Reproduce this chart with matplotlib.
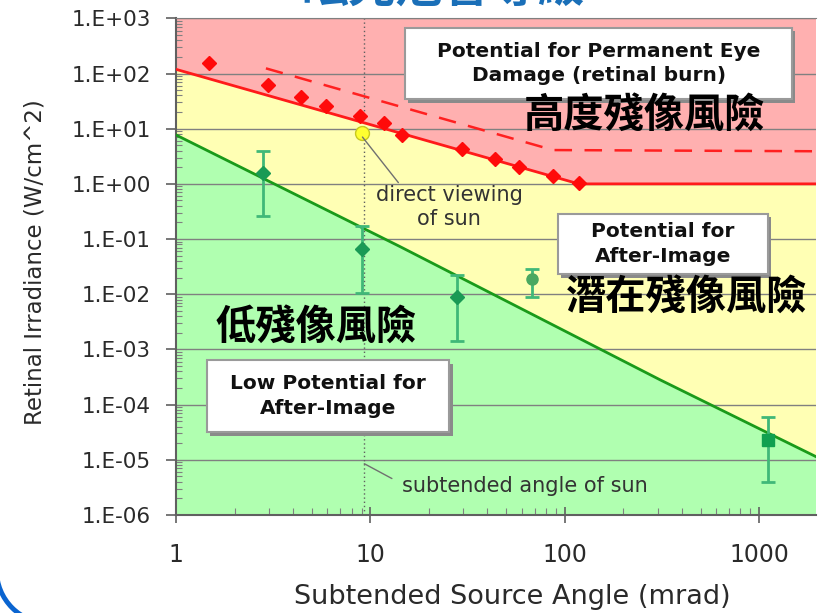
import matplotlib.pyplot as plt
import numpy as np
from matplotlib.patches import Rectangle, Arc
from matplotlib.ticker import FixedLocator, LogLocator, FuncFormatter, NullFormatter

plt.rcParams['font.family'] = ['DejaVu Sans', 'Noto Sans CJK TC']

# --- data ---
X_MAX = 1960
Y_MIN, Y_MAX = 1e-6, 1e3

# boundary: permanent damage (retinal burn)
burn_line_x = [1, 118, 2000]
burn_line_y = [119, 1.0, 1.0]
burn_dash_x = [2.9, 87, 2000]
burn_dash_y = [124, 4.1, 3.9]
burn_pts_x = [1.48, 2.96, 4.4, 5.9, 8.85, 11.8, 14.5, 29.5, 43.8, 58, 87, 118]
burn_pts_y = [153, 62, 38, 25.8, 17, 12.5, 7.7, 4.2, 2.8, 2.05, 1.39, 1.05]

# boundary: after-image
after_line_x = [1, 14.2, 310, 2000]
after_line_y = [7.7, 0.073, 2.8e-4, 1.1e-5]

# sun
sun_x, sun_y = 9.1, 8.3
sun_angle = 9.3

# observations with error bars
obs_x = [2.8, 9.0, 28, 68, 1110]
obs_y = [1.56, 0.065, 0.0088, 0.019, 2.3e-5]
obs_hi = [4.0, 0.17, 0.022, 0.029, 5.9e-5]
obs_lo = [0.26, 0.0107, 0.0014, 0.0089, 3.9e-6]
obs_marker = ['D', 'D', 'D', 'o', 's']
obs_color = ['#1a9a55', '#1a9a55', '#1a9a55', '#4aa860', '#10a050']

y_ticks = [1e-6, 1e-5, 1e-4, 1e-3, 1e-2, 1e-1, 1e0, 1e1, 1e2, 1e3]
x_ticks = [1, 10, 100, 1000]
x_tick_labels = ['1', '10', '100', '1000']

# --- figure ---
fig = plt.figure(figsize=(8.23, 6.13), dpi=100)
ax = fig.add_axes([0.2139, 0.1599, 0.7776, 0.8102])
ax.set_xscale('log')
ax.set_yscale('log')
ax.set_xlim(1, X_MAX)
ax.set_ylim(Y_MIN, Y_MAX)

# zones
ax.fill(burn_line_x + [2000, 1], burn_line_y + [Y_MAX, Y_MAX],
        color='#ffb0b0', lw=0, zorder=0.5)
ax.fill(burn_line_x + after_line_x[::-1], burn_line_y + after_line_y[::-1],
        color='#ffffb4', lw=0, zorder=0.5)
ax.fill(after_line_x + [2000, 1], after_line_y + [Y_MIN, Y_MIN],
        color='#b0ffb0', lw=0, zorder=0.5)

ax.set_axisbelow('line')
ax.yaxis.grid(True, which='major', color='#808080', lw=1)
ax.xaxis.grid(False)

# boundary lines
ax.plot(burn_line_x, burn_line_y, color='#ff1a1a', lw=2, zorder=3)
ax.plot(burn_dash_x, burn_dash_y, color='#ff2020', lw=1.8, ls=(0, (7, 5)), zorder=3)
ax.plot(after_line_x, after_line_y, color='#1a9a1a', lw=2, zorder=3)
ax.plot(burn_pts_x, burn_pts_y, ls='none', marker='D', ms=7, color='#ff0a0a',
        mec='#ff0a0a', zorder=4)

# sun line and point
ax.axvline(sun_angle, color='#606060', lw=1, ls=(0, (1, 2)), zorder=2)
ax.plot([sun_x], [sun_y], marker='o', ms=10, color='#ffff30', mec='#c8c820', zorder=5)

# observations
for x, y, hi, lo, m, c in zip(obs_x, obs_y, obs_hi, obs_lo, obs_marker, obs_color):
    ax.errorbar([x], [y], yerr=[[y - lo], [hi - y]], fmt='none', ecolor='#40b878',
                elinewidth=2, capsize=5, capthick=2, zorder=4)
    ax.plot([x], [y], marker=m, ms=8 if m != 'D' else 7, color=c, mec=c, zorder=5)

# axes styling
for s in ['left', 'bottom']:
    ax.spines[s].set_color('#606060')
    ax.spines[s].set_linewidth(1.5)
ax.spines['top'].set_color('#808080')
ax.spines['right'].set_visible(False)

ax.yaxis.set_major_locator(FixedLocator(y_ticks))
ax.yaxis.set_major_formatter(FuncFormatter(lambda v, p: f"1.E{int(round(np.log10(v))):+03d}"))
ax.yaxis.set_minor_locator(LogLocator(base=10, subs=np.arange(2, 10)))
ax.yaxis.set_minor_formatter(NullFormatter())
ax.xaxis.set_major_locator(FixedLocator(x_ticks))
ax.set_xticklabels(x_tick_labels)
ax.xaxis.set_minor_locator(LogLocator(base=10, subs=np.arange(2, 10)))
ax.xaxis.set_minor_formatter(NullFormatter())

ax.tick_params(axis='y', which='major', direction='out', length=7, width=1.2,
               color='#606060', labelsize=15.5, labelcolor='#2a2a2a', pad=11)
ax.tick_params(axis='y', which='minor', direction='in', length=4, width=0.8, color='#808080')
ax.tick_params(axis='x', which='major', direction='inout', length=12, width=1.2,
               color='#606060', labelsize=17, labelcolor='#2a2a2a', pad=14)
ax.tick_params(axis='x', which='minor', direction='in', length=5, width=0.8, color='#808080')

fig.text(0.6227, 0.026, 'Subtended Source Angle (mrad)', ha='center', va='center',
         fontsize=19.5, color='#2a2a2a')
fig.text(0.0425, 0.573, 'Retinal Irradiance (W/cm^2)', ha='center', va='center',
         rotation=90, fontsize=16.5, color='#2a2a2a')


# text boxes with drop shadow (axes fraction coords)
def shadow_box(x0, y0, x1, y1, text, fs=14.5):
    ax.add_patch(Rectangle((x0 + 0.005, y0 - 0.007), x1 - x0, y1 - y0,
                           transform=ax.transAxes, facecolor='#8a8a8a',
                           edgecolor='none', zorder=6))
    ax.add_patch(Rectangle((x0, y0), x1 - x0, y1 - y0, transform=ax.transAxes,
                           facecolor='white', edgecolor='#9a9a9a', lw=1.5, zorder=7))
    ax.text((x0 + x1) / 2, (y0 + y1) / 2, text, transform=ax.transAxes,
            ha='center', va='center', fontsize=fs, fontweight='bold',
            color='#111111', linespacing=1.35, zorder=8)


shadow_box(0.358, 0.8375, 0.9625, 0.9805, 'Potential for Permanent Eye\nDamage (retinal burn)')
shadow_box(0.597, 0.485, 0.925, 0.606, 'Potential for\nAfter-Image')
shadow_box(0.048, 0.167, 0.427, 0.312, 'Low Potential for\nAfter-Image')

# chinese risk labels
cjk = dict(transform=ax.transAxes, ha='center', va='center', fontsize=29,
           family='Noto Sans CJK TC', fontweight='bold', color='black', zorder=9)
ax.text((644 - 176) / 640, (515 - 115) / 496.7, '高度殘像風險', **cjk)
ax.text((687 - 176) / 640, (515 - 297) / 496.7, '潛在殘像風險', **cjk)
ax.text((316 - 176) / 640, (515 - 327) / 496.7, '低殘像風險', **cjk)

# annotations
ax.annotate('direct viewing\nof sun', xy=(sun_x, sun_y * 0.85),
            xytext=((449 - 176) / 640, (515 - 207) / 496.7), textcoords='axes fraction',
            ha='center', va='center', fontsize=15, color='#333333', linespacing=1.2,
            arrowprops=dict(arrowstyle='-', color='#707070', lw=1,
                            shrinkA=0, shrinkB=0, relpos=(0.17, 1.0)), zorder=6)
ax.annotate('subtended angle of sun', xy=(sun_angle, 8.5e-6),
            xytext=((402 - 176) / 640, (515 - 486) / 496.7), textcoords='axes fraction',
            ha='left', va='center', fontsize=15, color='#333333',
            arrowprops=dict(arrowstyle='-', color='#707070', lw=1,
                            shrinkA=6, shrinkB=0, relpos=(0.0, 0.6)), zorder=6)

# slide remnants: clipped blue heading and rounded frame corner
fig.text(0.538, 0.9804, '眩光危害等級', ha='center', va='bottom', fontsize=34,
         family='Noto Sans CJK TC', fontweight='bold', color='#1a6fb8')
fig.add_artist(Arc((0.5, 0.43), 1.07, 1.07, theta1=180, theta2=270,
                   transform=fig.dpi_scale_trans, color='#0a64d0', lw=3.5))

fig.savefig('out.png', dpi=100)
